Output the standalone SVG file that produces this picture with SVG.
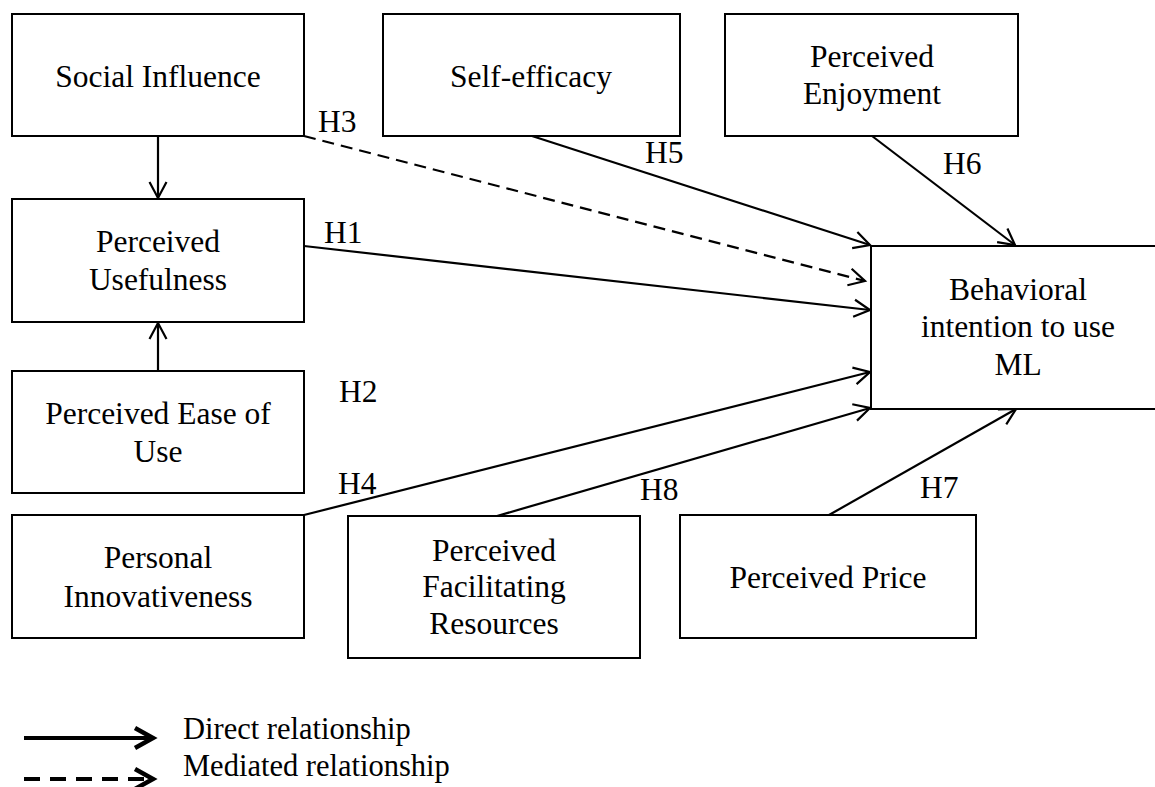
<svg xmlns="http://www.w3.org/2000/svg" width="1155" height="787" viewBox="0 0 1155 787">
  <style>
    text { font-family: "Liberation Serif", Tinos, "Times New Roman", Times, "DejaVu Serif", "Noto Serif", serif; fill: #000000; }
    .lbl { font-size: 31.5px; text-anchor: middle; }
    .hyp { font-size: 31.5px; }
    .leg { font-size: 30.5px; }
    .box { fill: #ffffff; stroke: #000000; stroke-width: 2; }
    .edge { fill: none; stroke: #000000; stroke-width: 2.2; marker-end: url(#chev); }
    .dash { stroke-dasharray: 12 7; }
  </style>
  <defs>
    <marker id="chev" viewBox="0 0 20 20" markerWidth="20" markerHeight="20" refX="17" refY="10" orient="auto" markerUnits="userSpaceOnUse">
      <path d="M1,1.5 L17,10 L1,18.5" fill="none" stroke="#000000" stroke-width="2.2"/>
    </marker>
    <marker id="chevBold" viewBox="0 0 26 26" markerWidth="26" markerHeight="26" refX="22" refY="13" orient="auto" markerUnits="userSpaceOnUse">
      <path d="M3,3 L21,13 L3,23" fill="none" stroke="#000000" stroke-width="4.5"/>
    </marker>
  </defs>

  <rect width="1155" height="787" fill="#ffffff"/>

  <!-- connectors -->
  <g id="connectors">
    <line class="edge" x1="158" y1="136" x2="158" y2="198"/>
    <line class="edge" x1="158" y1="371" x2="158" y2="323"/>
    <line class="edge dash" x1="304" y1="136" x2="865" y2="281"/>
    <line class="edge" x1="532" y1="136" x2="870" y2="245"/>
    <line class="edge" x1="872" y1="136" x2="1015" y2="245"/>
    <line class="edge" x1="304" y1="246" x2="870" y2="310"/>
    <line class="edge" x1="304" y1="515" x2="870" y2="372"/>
    <line class="edge" x1="497" y1="516" x2="870" y2="408"/>
    <line class="edge" x1="829" y1="515" x2="1016" y2="409"/>
  </g>

  <!-- hypothesis labels -->
  <g id="hypotheses">
    <text class="hyp" x="318" y="132">H3</text>
    <text class="hyp" x="645" y="163">H5</text>
    <text class="hyp" x="943" y="174">H6</text>
    <text class="hyp" x="324" y="243">H1</text>
    <text class="hyp" x="339" y="402">H2</text>
    <text class="hyp" x="338" y="494">H4</text>
    <text class="hyp" x="640" y="500">H8</text>
    <text class="hyp" x="920" y="498">H7</text>
  </g>

  <g id="social-influence">
    <rect class="box" x="12" y="14" width="292" height="122"/>
    <text class="lbl" x="158" y="87">Social Influence</text>
  </g>

  <g id="self-efficacy">
    <rect class="box" x="383" y="14" width="297" height="122"/>
    <text class="lbl" x="531" y="87">Self-efficacy</text>
  </g>

  <g id="perceived-enjoyment">
    <rect class="box" x="725" y="14" width="293" height="122"/>
    <text class="lbl" x="872" y="67">Perceived</text>
    <text class="lbl" x="872" y="104">Enjoyment</text>
  </g>

  <g id="perceived-usefulness">
    <rect class="box" x="12" y="199" width="292" height="123"/>
    <text class="lbl" x="158" y="252">Perceived</text>
    <text class="lbl" x="158" y="290">Usefulness</text>
  </g>

  <g id="perceived-ease-of-use">
    <rect class="box" x="12" y="371" width="292" height="122"/>
    <text class="lbl" x="158" y="424">Perceived Ease of</text>
    <text class="lbl" x="158" y="462">Use</text>
  </g>

  <g id="personal-innovativeness">
    <rect class="box" x="12" y="515" width="292" height="123"/>
    <text class="lbl" x="158" y="568">Personal</text>
    <text class="lbl" x="158" y="607">Innovativeness</text>
  </g>

  <g id="facilitating-resources">
    <rect class="box" x="348" y="516" width="292" height="142"/>
    <text class="lbl" x="494" y="561">Perceived</text>
    <text class="lbl" x="494" y="597">Facilitating</text>
    <text class="lbl" x="494" y="634">Resources</text>
  </g>

  <g id="perceived-price">
    <rect class="box" x="680" y="515" width="296" height="123"/>
    <text class="lbl" x="828" y="588">Perceived Price</text>
  </g>

  <g id="behavioral-intention">
    <rect class="box" x="871" y="246" width="310" height="163"/>
    <text class="lbl" x="1018" y="300">Behavioral</text>
    <text class="lbl" x="1018" y="337">intention to use</text>
    <text class="lbl" x="1018" y="375">ML</text>
  </g>

  <!-- legend -->
  <g id="legend">
    <line x1="24" y1="738" x2="154" y2="738" stroke="#000000" stroke-width="4" marker-end="url(#chevBold)"/>
    <line x1="24" y1="779" x2="154" y2="779" stroke="#000000" stroke-width="4" stroke-dasharray="16 10" marker-end="url(#chevBold)"/>
    <text class="leg" x="183" y="739">Direct relationship</text>
    <text class="leg" x="183" y="776">Mediated relationship</text>
  </g>
</svg>
